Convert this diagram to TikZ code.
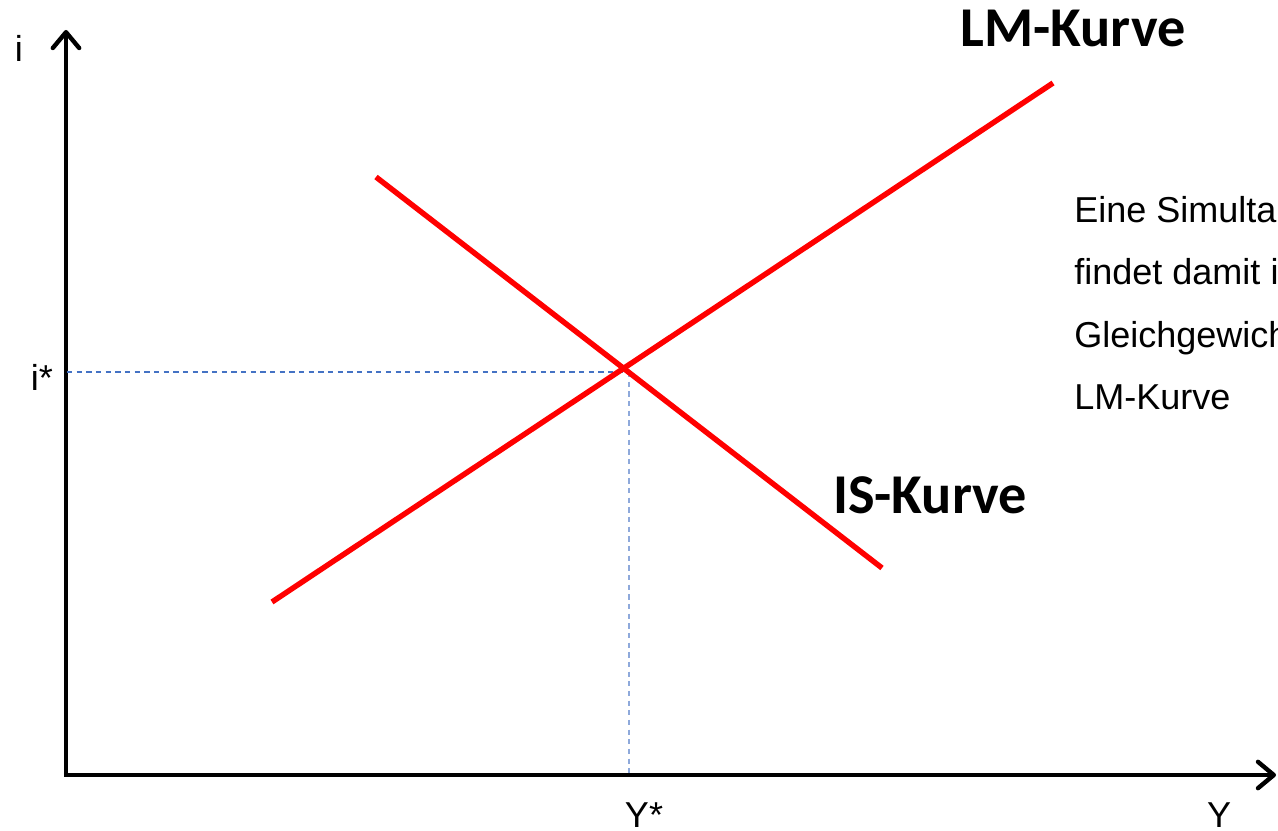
\documentclass[tikz,border=0pt]{standalone}
\usepackage{fontspec}
\setmainfont{Liberation Sans}
\newfontfamily\calib{Carlito}
\usetikzlibrary{arrows.meta}
\begin{document}
\begin{tikzpicture}[x=0.02cm,y=-0.02cm,
  axis/.style={line width=2.5pt,-{Straight Barb[length=9pt,width=15pt,line cap=round,line join=round]}},
  curve/.style={line width=3.1pt,draw={rgb,255:red,255;green,0;blue,0}},
  guide/.style={dashed,line width=0.6pt,dash pattern=on 3pt off 2.5pt},
  lbl/.style={font=\fontsize{20.5pt}{24pt}\selectfont,inner sep=0pt},
  big/.style={font=\calib\bfseries\fontsize{32pt}{38pt}\selectfont,inner sep=0pt}]
\useasboundingbox (0,0) rectangle (1278,831);
\clip (0,0) rectangle (1278,831);
\coordinate (O) at (66,775);
\coordinate (ytop) at (66,30);
\coordinate (xend) at (1276,775);
\draw[axis] (O) -- (ytop);
\draw[axis] ([xshift=-1.25pt]O) -- (xend);
\coordinate (lmA) at (272,602);
\coordinate (lmB) at (1053,83);
\coordinate (isA) at (376,177);
\coordinate (isB) at (882,568);
\coordinate (Ei) at (67,372);
\coordinate (Ey) at (629,773);
\coordinate (Ec) at (629,372);
\draw[guide,draw={rgb,255:red,68;green,114;blue,196}] (Ei) -- (Ec);
\draw[guide,draw={rgb,255:red,142;green,169;blue,219},line width=0.9pt] (Ec) -- (Ey);
\draw[curve] (lmA) -- (lmB);
\draw[curve] (isA) -- (isB);
\node[lbl,anchor=base] (li) at (19,62) {i};
\node[lbl,anchor=base] (listar) at (42,390) {i*};
\node[lbl,anchor=base] (lY) at (1219,827) {Y};
\node[lbl,anchor=base] (lYstar) at (644,827) {Y*};
\node[big,anchor=base] (lm) at (1073,47) {LM-Kurve};
\node[big,anchor=base] (is) at (930,513) {IS-Kurve};
\node[lbl,anchor=base west] (t1) at (1074,223) {Eine Simultane};
\node[lbl,anchor=base west] (t2) at (1074,285) {findet damit im};
\node[lbl,anchor=base west] (t3) at (1074,347) {Gleichgewicht};
\node[lbl,anchor=base west] (t4) at (1074,409) {LM-Kurve};
\end{tikzpicture}
\end{document}
